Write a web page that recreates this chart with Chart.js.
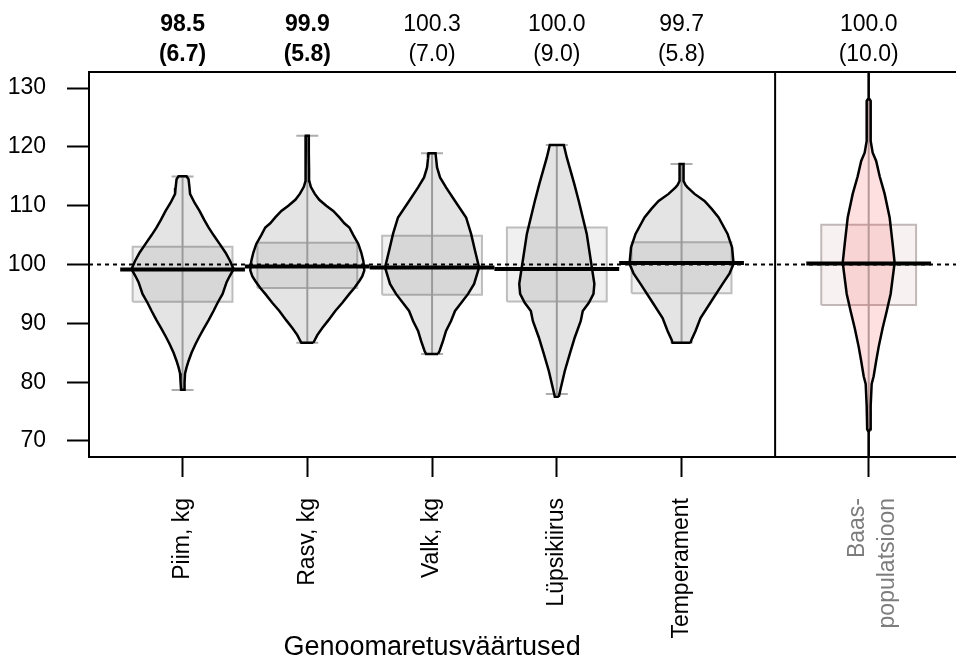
<!DOCTYPE html>
<html>
<head>
<meta charset="utf-8">
<script src="https://cdn.jsdelivr.net/npm/chart.js@4.4.1/dist/chart.umd.min.js"></script>
<style>
html, body { margin: 0; padding: 0; background: #fff; overflow: hidden; }
canvas { display: block; }
</style>
</head>
<body>
<canvas id="chart" width="956" height="658"></canvas>
<script>
// categories and where they sit on the x axis (baseline population in its own panel)
const categories = ['Piim, kg', 'Rasv, kg', 'Valk, kg', 'Lüpsikiirus', 'Temperament', ['Baas-', 'populatsioon']];
const catPos = [1, 2, 3, 4, 5, 6.5];
const topMeans = ['98.5', '99.9', '100.3', '100.0', '99.7', '100.0'];
const topSds = ['(6.7)', '(5.8)', '(7.0)', '(9.0)', '(5.8)', '(10.0)'];
const yTicks = [70, 80, 90, 100, 110, 120, 130];

// boxes, whisker ends and the thick centre line
const q1 = [93.65, 96.0, 94.85, 93.7, 95.1, 93.1];
const q3 = [103.0, 103.7, 104.9, 106.3, 103.8, 106.75];
const whiskLo = [78.65, 86.7, 84.8, 78.0, 86.7, 60];
const whiskHi = [114.96, 121.9, 118.9, 120.3, 117.1, 140];
const centreLine = [99.15, 99.66, 99.49, 99.22, 100.24, 100.17];
const refLevel = 100;

// violin outlines: value levels and half width (share of category width)
const piimY = [78.7, 80, 81.5, 82.5, 83.6, 85, 86.5, 87.8, 89.2, 90.5, 92.1, 93.5, 95, 97, 98, 99.2, 100.6, 102, 103.5, 105, 106.3, 107.5, 109.1, 110.5, 112, 113, 114.5, 115];
const piimW = [0.012, 0.016, 0.020, 0.032, 0.048, 0.072, 0.104, 0.136, 0.172, 0.208, 0.248, 0.281, 0.321, 0.353, 0.377, 0.409, 0.381, 0.345, 0.297, 0.248, 0.208, 0.176, 0.136, 0.096, 0.060, 0.056, 0.048, 0.032];
const rasvY = [86.7, 87.0, 88, 89.2, 90.5, 92.1, 93.5, 95.0, 96, 97.2, 98, 99, 100.6, 102, 103.5, 105, 106.3, 107, 108, 109.1, 110, 111, 112, 113.2, 114.2, 116, 119, 121.9];
const rasvW = [0.048, 0.056, 0.080, 0.120, 0.168, 0.224, 0.281, 0.337, 0.377, 0.417, 0.441, 0.457, 0.449, 0.433, 0.409, 0.369, 0.337, 0.297, 0.257, 0.208, 0.152, 0.096, 0.060, 0.028, 0.016, 0.014, 0.012, 0.012];
const valkY = [84.8, 85.3, 87, 88.7, 90.4, 92.1, 95, 96.7, 99.5, 102.3, 105.2, 108, 110.8, 113.1, 114.8, 116.5, 118.1, 118.9];
const valkW = [0.048, 0.060, 0.088, 0.112, 0.152, 0.184, 0.289, 0.337, 0.377, 0.345, 0.313, 0.273, 0.184, 0.112, 0.064, 0.040, 0.032, 0.028];
const lypsY = [77.5, 79.0, 81.9, 84.8, 87.6, 90.4, 92.1, 93.5, 95.0, 96.7, 100.6, 105.2, 110.8, 113.7, 118.2, 120.3];
const lypsW = [0.016, 0.032, 0.064, 0.104, 0.144, 0.192, 0.208, 0.257, 0.294, 0.301, 0.273, 0.240, 0.176, 0.140, 0.080, 0.056];
const tempY = [86.7, 87.2, 88.7, 90.9, 93.8, 96.7, 98.5, 100.1, 102.9, 105.2, 108, 109.5, 110.8, 112, 113.1, 113.5, 114.2, 117.1];
const tempW = [0.072, 0.080, 0.112, 0.152, 0.240, 0.329, 0.385, 0.417, 0.405, 0.369, 0.297, 0.240, 0.184, 0.104, 0.048, 0.032, 0.016, 0.016];
const baasY = [66, 71.5, 72, 76, 79.7, 81, 83.6, 86, 89.2, 92, 95, 100.3, 103.5, 108, 112, 115, 117.6, 119, 121, 127.8, 128.3, 134];
const baasW = [0, 0, 0.012, 0.016, 0.024, 0.040, 0.060, 0.080, 0.112, 0.144, 0.176, 0.208, 0.192, 0.168, 0.128, 0.088, 0.060, 0.032, 0.016, 0.016, 0, 0];

const violinY = [piimY, rasvY, valkY, lypsY, tempY, baasY];
const violinW = [piimW, rasvW, valkW, lypsW, tempW, baasW];

// axis ranges and layout bits
const xMin = 0.25, xMax = 7.2, panelSplit = 5.75;
const yMin = 67.28, yMax = 132.72;
const baasLabelPos = 6.41;
const boxHalf = [0.4, 0.4, 0.4, 0.4, 0.4, 0.38];
const capHalf = 0.088;
const lineHalf = 0.5;
const FONT = '"Liberation Sans", Arial, sans-serif';

const greyViolin = 'rgba(0,0,0,0.105)', pinkViolin = 'rgba(255,0,0,0.12)';
const greyBox = 'rgba(0,0,0,0.058)', pinkBox = 'rgba(140,60,60,0.07)';

function violinPoints(c, ys, ws) {
    const right = ys.map((y, i) => ({x: c + ws[i], y: y}));
    const left = ys.map((y, i) => ({x: c - ws[i], y: y})).reverse();
    return right.concat(left, [right[0]]);
}

const datasets = [];
catPos.forEach((c, i) => {
    const isBase = i === catPos.length - 1;
    const h = boxHalf[i];
    datasets.push({
        data: [{x: c - h, y: q1[i]}, {x: c + h, y: q1[i]}, {x: c + h, y: q3[i]}, {x: c - h, y: q3[i]}, {x: c - h, y: q1[i]}],
        fill: 'shape', backgroundColor: isBase ? pinkBox : greyBox,
        borderColor: isBase ? '#c2b8b8' : '#bdbdbd', borderWidth: 2, order: 5
    });
    datasets.push({
        data: [{x: c - capHalf, y: whiskHi[i]}, {x: c + capHalf, y: whiskHi[i]}, {x: c, y: null},
               {x: c, y: whiskHi[i]}, {x: c, y: whiskLo[i]}, {x: c, y: null},
               {x: c - capHalf, y: whiskLo[i]}, {x: c + capHalf, y: whiskLo[i]}],
        fill: false, borderColor: '#adadad', borderWidth: 2, spanGaps: false, order: 4
    });
    datasets.push({
        data: violinPoints(c, violinY[i], violinW[i]),
        fill: 'shape', backgroundColor: isBase ? pinkViolin : greyViolin,
        borderColor: '#000', borderWidth: 2.5, order: 3
    });
    datasets.push({
        data: [{x: c - lineHalf, y: centreLine[i]}, {x: c + lineHalf, y: centreLine[i]}],
        fill: false, borderColor: '#000', borderWidth: 4, order: 2
    });
});
datasets.push({
    data: [{x: xMin, y: refLevel}, {x: xMax, y: refLevel}],
    fill: false, borderColor: '#000', borderWidth: 2, borderDash: [4, 4], order: 1
});
datasets.push({
    data: [{x: panelSplit, y: yMin}, {x: panelSplit, y: yMax}],
    fill: false, borderColor: '#000', borderWidth: 2, order: 0
});
datasets.forEach(d => { d.showLine = true; d.pointRadius = 0; d.borderCapStyle = 'butt'; });

// bottom ticks: tick marks at the categories, baseline label pulled slightly left
const bottomTicks = catPos.slice(0, 5).map((v, i) => ({value: v, label: categories[i], mark: true}));
bottomTicks.push({value: baasLabelPos, label: categories[5], mark: false});
bottomTicks.push({value: catPos[5], label: '', mark: true});

const xTitle = {
    id: 'xTitle',
    afterDraw(chart) {
        const x = chart.scales.x;
        const cx = (x.getPixelForValue(xMin) + x.getPixelForValue(panelSplit)) / 2;
        const ctx = chart.ctx;
        ctx.save();
        ctx.font = '27px ' + FONT;
        ctx.fillStyle = '#000';
        ctx.textAlign = 'center';
        ctx.textBaseline = 'alphabetic';
        ctx.fillText('Genoomaretusväärtused', cx, 655);
        ctx.restore();
    }
};

new Chart(document.getElementById('chart'), {
    type: 'scatter',
    data: {datasets: datasets},
    plugins: [xTitle],
    options: {
        responsive: false,
        animation: false,
        devicePixelRatio: 1,
        layout: {padding: 0},
        elements: {line: {tension: 0}, point: {radius: 0}},
        plugins: {legend: {display: false}, tooltip: {enabled: false}},
        scales: {
            x: {
                type: 'linear', position: 'bottom', min: xMin, max: xMax,
                afterBuildTicks: s => { s.ticks = bottomTicks.map(t => ({value: t.value})); },
                afterFit: s => { s.height = 201; },
                ticks: {
                    autoSkip: false, minRotation: 90, maxRotation: 90, padding: 21,
                    font: {family: FONT, size: 23, lineHeight: 1.3},
                    color: ctx => (bottomTicks[ctx.index] && bottomTicks[ctx.index].value === baasLabelPos) ? '#7c7c7c' : '#000',
                    callback: (v, i) => bottomTicks[i].label
                },
                grid: {
                    drawOnChartArea: false, tickLength: 20, tickWidth: 2,
                    tickColor: ctx => (bottomTicks[ctx.index] && !bottomTicks[ctx.index].mark) ? 'rgba(0,0,0,0)' : '#000'
                },
                border: {display: true, color: '#000', width: 2}
            },
            xTop: {
                type: 'linear', position: 'top', min: xMin, max: xMax,
                afterBuildTicks: s => { s.ticks = catPos.map(v => ({value: v})); },
                afterFit: s => { s.height = 72; },
                ticks: {
                    autoSkip: false, minRotation: 0, maxRotation: 0, padding: 2, color: '#000',
                    font: ctx => ({family: FONT, size: 23, lineHeight: 1.3, weight: ctx.index < 2 ? 'bold' : 'normal'}),
                    callback: (v, i) => [topMeans[i], topSds[i]]
                },
                grid: {display: false, drawTicks: false},
                border: {display: true, color: '#000', width: 2}
            },
            y: {
                type: 'linear', min: yMin, max: yMax,
                afterBuildTicks: s => { s.ticks = yTicks.map(v => ({value: v})); },
                afterFit: s => { s.width = 89; },
                ticks: {padding: 21, color: '#000', font: {family: FONT, size: 23}},
                grid: {drawOnChartArea: false, tickLength: 22, tickWidth: 2, tickColor: '#000'},
                border: {display: true, color: '#000', width: 2}
            }
        }
    }
});
</script>
</body>
</html>
